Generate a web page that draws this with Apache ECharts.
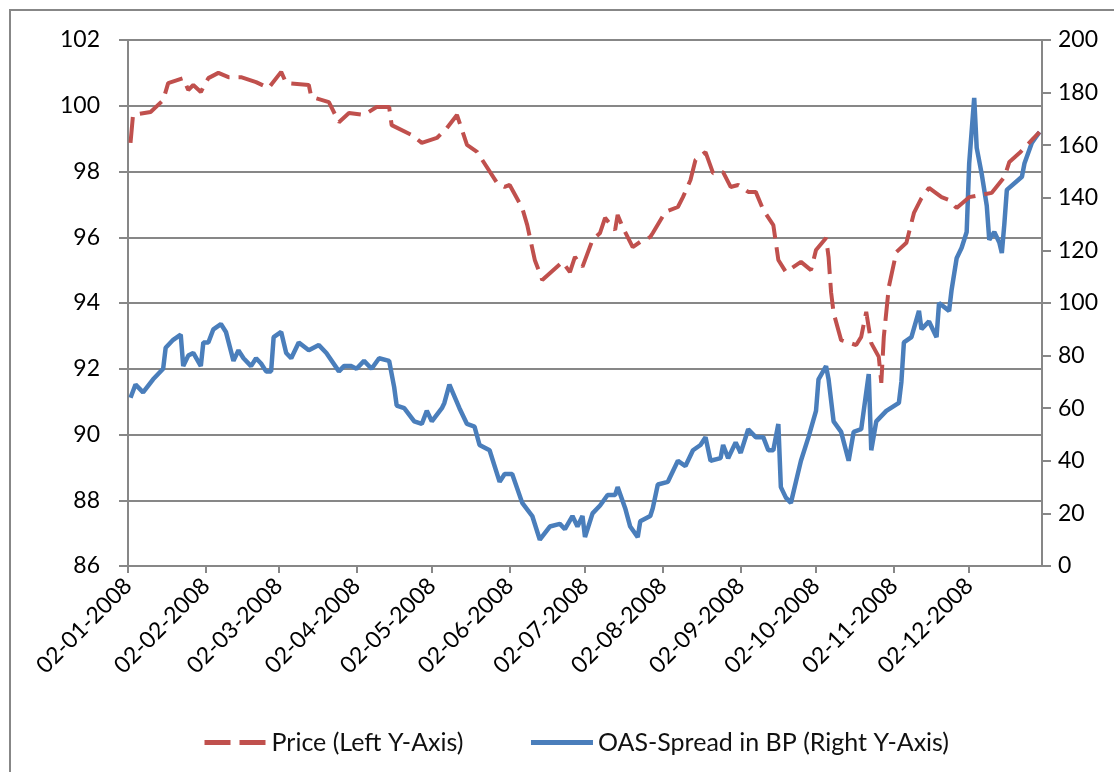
<!DOCTYPE html>
<html>
<head>
<meta charset="utf-8">
<script src="https://cdn.jsdelivr.net/npm/echarts@6/dist/echarts.min.js"></script>
<style>
html,body{margin:0;padding:0;background:#fff;}
#chart{width:1114px;height:772px;}
</style>
</head>
<body>
<div id="chart"></div>
<script>
// ---- Data ----
const tickLabels = ['02-01-2008','02-02-2008','02-03-2008','02-04-2008','02-05-2008','02-06-2008',
  '02-07-2008','02-08-2008','02-09-2008','02-10-2008','02-11-2008','02-12-2008'];

const priceDates = ['2008-01-03','2008-01-04','2008-01-11','2008-01-16','2008-01-18','2008-01-24','2008-01-26','2008-01-28','2008-01-31',
  '2008-02-03','2008-02-07','2008-02-11','2008-02-16','2008-02-22','2008-02-27','2008-03-03','2008-03-05','2008-03-14','2008-03-15',
  '2008-03-22','2008-03-26','2008-03-30','2008-04-05','2008-04-10','2008-04-15','2008-04-16','2008-04-24','2008-04-28','2008-05-04',
  '2008-05-08','2008-05-12','2008-05-16','2008-05-20','2008-05-28','2008-05-31','2008-06-02','2008-06-07','2008-06-09','2008-06-12',
  '2008-06-15','2008-06-23','2008-06-26','2008-06-28','2008-07-01','2008-07-05','2008-07-08','2008-07-10','2008-07-14','2008-07-15',
  '2008-07-17','2008-07-21','2008-07-24','2008-07-28','2008-07-29','2008-08-03','2008-08-08','2008-08-10','2008-08-13','2008-08-15',
  '2008-08-19','2008-08-22','2008-08-26','2008-08-29','2008-09-01','2008-09-05','2008-09-08','2008-09-11','2008-09-15','2008-09-17',
  '2008-09-20','2008-09-26','2008-09-30','2008-10-02','2008-10-06','2008-10-07','2008-10-08','2008-10-09','2008-10-12','2008-10-18',
  '2008-10-20','2008-10-22','2008-10-24','2008-10-27','2008-10-28','2008-10-29','2008-10-31','2008-11-03','2008-11-07','2008-11-10',
  '2008-11-13','2008-11-16','2008-11-21','2008-11-24','2008-11-27','2008-12-02','2008-12-11','2008-12-16','2008-12-18','2008-12-22',
  '2008-12-27','2008-12-30'];
const priceValues = [98.87,99.72,99.81,100.17,100.69,100.84,100.48,100.63,100.42,
  100.84,101.0,100.87,100.87,100.72,100.54,101.03,100.69,100.63,100.27,
  100.11,99.5,99.78,99.72,99.96,99.96,99.41,99.11,98.87,99.02,
  99.32,99.72,98.81,98.6,97.65,97.53,97.59,96.89,96.37,95.31,
  94.7,95.25,94.94,95.4,95.1,95.92,96.13,96.59,96.22,96.68,
  96.31,95.7,95.86,96.01,96.13,96.77,96.92,97.22,97.74,98.35,
  98.59,97.95,97.98,97.53,97.59,97.38,97.38,96.83,96.37,95.31,
  94.94,95.25,95.0,95.61,95.98,95.4,94.33,93.7,92.87,92.72,
  92.97,93.73,92.78,92.36,91.57,92.97,94.49,95.55,95.83,96.74,
  97.19,97.5,97.22,97.13,96.89,97.22,97.35,97.83,98.29,98.56,
  98.96,99.2];

const spreadDates = ['2008-01-03','2008-01-05','2008-01-08','2008-01-12','2008-01-16','2008-01-17','2008-01-20','2008-01-23','2008-01-24',
  '2008-01-26','2008-01-28','2008-01-31','2008-02-01','2008-02-03','2008-02-05','2008-02-08','2008-02-10','2008-02-13','2008-02-15',
  '2008-02-17','2008-02-20','2008-02-22','2008-02-24','2008-02-26','2008-02-28','2008-02-29','2008-03-03','2008-03-05','2008-03-07',
  '2008-03-10','2008-03-14','2008-03-18','2008-03-21','2008-03-26','2008-03-28','2008-03-31','2008-04-02','2008-04-05','2008-04-08',
  '2008-04-11','2008-04-15','2008-04-17','2008-04-18','2008-04-21','2008-04-25','2008-04-28','2008-04-30','2008-05-02','2008-05-06',
  '2008-05-07','2008-05-09','2008-05-13','2008-05-16','2008-05-19','2008-05-21','2008-05-25','2008-05-29','2008-05-31','2008-06-03',
  '2008-06-07','2008-06-11','2008-06-14','2008-06-18','2008-06-22','2008-06-24','2008-06-27','2008-06-29','2008-07-01','2008-07-02',
  '2008-07-05','2008-07-08','2008-07-11','2008-07-14','2008-07-15','2008-07-18','2008-07-20','2008-07-23','2008-07-24','2008-07-28',
  '2008-07-29','2008-07-31','2008-08-04','2008-08-08','2008-08-11','2008-08-14','2008-08-17','2008-08-19','2008-08-21','2008-08-25',
  '2008-08-26','2008-08-28','2008-08-31','2008-09-02','2008-09-05','2008-09-08','2008-09-11','2008-09-13','2008-09-15','2008-09-17',
  '2008-09-18','2008-09-20','2008-09-22','2008-09-24','2008-09-26','2008-09-29','2008-10-02','2008-10-03','2008-10-06','2008-10-07',
  '2008-10-09','2008-10-12','2008-10-15','2008-10-17','2008-10-20','2008-10-23','2008-10-24','2008-10-26','2008-10-30','2008-11-04',
  '2008-11-05','2008-11-06','2008-11-09','2008-11-12','2008-11-13','2008-11-16','2008-11-19','2008-11-20','2008-11-24','2008-11-25',
  '2008-11-27','2008-11-29','2008-12-01','2008-12-02','2008-12-04','2008-12-05','2008-12-07','2008-12-09','2008-12-10','2008-12-12',
  '2008-12-14','2008-12-15','2008-12-16','2008-12-17','2008-12-23','2008-12-24','2008-12-27','2008-12-30'];
const spreadValues = [64,69,66,71,75,83,86,88,76,
  80,81,76,85,85,90,92,89,78,82,
  79,76,79,77,74,74,87,89,81,79,
  85,82,84,81,74,76,76,75,78,75,
  79,78,68,61,60,55,54,59,55,60,
  62,69,60,54,53,46,44,32,35,35,
  24,19,10,15,16,14,19,15,19,11,
  20,23,27,27,30,22,15,11,17,19,
  22,31,32,40,38,44,46,49,40,41,
  46,41,47,43,52,49,49,44,44,54,
  30,26,24,32,40,49,59,71,76,71,
  55,51,40,51,52,73,44,55,59,62,
  70,85,87,97,90,93,87,100,97,105,
  117,121,127,153,178,159,149,137,124,127,
  123,119,130,143,148,153,161,165];

// ---- helpers ----
function toTs(s) { const p = s.split('-').map(Number); return new Date(p[0], p[1] - 1, p[2]).getTime(); }
function labelTs(l) { const p = l.split('-').map(Number); return new Date(p[2], p[1] - 1, p[0]).getTime(); }
const tickValues = tickLabels.map(labelTs);
const labelMap = {};
tickLabels.forEach((l, i) => { labelMap[tickValues[i]] = l; });
const priceData = priceDates.map((d, i) => [toTs(d), priceValues[i]]);
const spreadData = spreadDates.map((d, i) => [toTs(d), spreadValues[i]]);

const FONT = 'Lato';
const GRAY = '#878787';
const chart = echarts.init(document.getElementById('chart'), null, { renderer: 'canvas' });
chart.setOption({
  animation: false,
  backgroundColor: '#ffffff',
  textStyle: { fontFamily: FONT },
  graphic: [{
    type: 'rect', z: -10, silent: true,
    shape: { x: 10, y: 10, width: 1300, height: 1000 },
    style: { fill: 'none', stroke: GRAY, lineWidth: 2 }
  }],
  grid: { left: 128, right: 72, top: 40, bottom: 206, containLabel: false },
  legend: {
    left: 197, top: 725,
    itemWidth: 62, itemHeight: 14, itemGap: 65,
    itemStyle: { opacity: 0 },
    lineStyle: { width: 5 },
    textStyle: { fontFamily: FONT, fontSize: 25, color: '#111' },
    data: ['Price (Left Y-Axis)', 'OAS-Spread in BP (Right Y-Axis)']
  },
  xAxis: {
    type: 'value',
    min: toTs('2008-01-02'),
    max: toTs('2008-12-31'),
    axisLine: { show: true, lineStyle: { color: GRAY, width: 2 } },
    axisTick: { show: true, customValues: tickValues, length: 7, lineStyle: { color: GRAY, width: 2 } },
    splitLine: { show: false },
    axisLabel: {
      customValues: tickValues,
      rotate: 45, margin: 16,
      fontFamily: FONT, fontSize: 23, color: '#000',
      formatter: v => labelMap[v] || ''
    }
  },
  yAxis: [{
    type: 'value', min: 86, max: 102, interval: 2, position: 'left',
    axisLine: { show: true, lineStyle: { color: GRAY, width: 2 } },
    axisTick: { show: true, length: 9, lineStyle: { color: GRAY, width: 2 } },
    splitLine: { show: true, lineStyle: { color: GRAY, width: 2 } },
    axisLabel: { margin: 28, fontFamily: FONT, fontSize: 23, color: '#000' }
  }, {
    type: 'value', min: 0, max: 200, interval: 20, position: 'right',
    axisLine: { show: true, lineStyle: { color: GRAY, width: 2 } },
    axisTick: { show: true, length: 9, lineStyle: { color: GRAY, width: 2 } },
    splitLine: { show: false },
    axisLabel: { margin: 16, fontFamily: FONT, fontSize: 23, color: '#000' }
  }],
  series: [{
    name: 'Price (Left Y-Axis)',
    type: 'line', yAxisIndex: 0,
    data: priceData,
    symbol: 'none',
    itemStyle: { color: '#C0504D' },
    lineStyle: { color: '#C0504D', width: 4, type: [26, 9] },
    z: 3
  }, {
    name: 'OAS-Spread in BP (Right Y-Axis)',
    type: 'line', yAxisIndex: 1,
    data: spreadData,
    symbol: 'none',
    itemStyle: { color: '#4A7EBB' },
    lineStyle: { color: '#4A7EBB', width: 4.5 },
    z: 2
  }]
});
</script>
</body>
</html>
